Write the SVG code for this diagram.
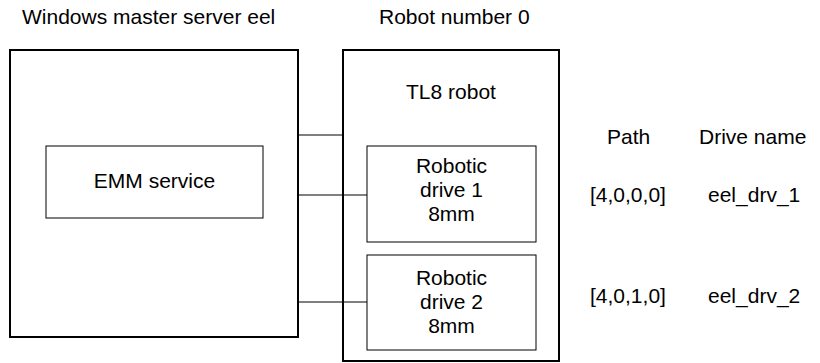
<svg xmlns="http://www.w3.org/2000/svg" width="820" height="363" viewBox="0 0 820 363">
<style>
text{font-family:"Liberation Sans",Arial,sans-serif;font-size:21px;fill:#000}
.c{text-anchor:middle}
.outer{fill:#fff;stroke:#000;stroke-width:2}
.inner{fill:#fff;stroke:#000;stroke-width:1}
.conn{stroke:#000;stroke-width:1;fill:none}
</style>
<rect width="820" height="363" fill="#fff"/>
<g id="server">
<text x="22" y="24">Windows master server eel</text>
<rect class="outer" x="10" y="50" width="288" height="287"/>
</g>
<g id="emm">
<rect class="inner" x="46" y="146" width="217" height="72"/>
<text class="c" x="154.5" y="188">EMM service</text>
</g>
<g id="robot">
<text x="379" y="24">Robot number 0</text>
<rect class="outer" x="343" y="50" width="216" height="311"/>
<text class="c" x="451" y="99">TL8 robot</text>
</g>
<g id="drive1">
<rect class="inner" x="367" y="146" width="169" height="96"/>
<text class="c" x="451.5" y="173">Robotic</text>
<text class="c" x="451.5" y="197">drive 1</text>
<text class="c" x="451.5" y="221">8mm</text>
</g>
<g id="drive2">
<rect class="inner" x="367" y="255" width="169" height="95"/>
<text class="c" x="451.5" y="285">Robotic</text>
<text class="c" x="451.5" y="309">drive 2</text>
<text class="c" x="451.5" y="333">8mm</text>
</g>
<g id="table">
<text x="607" y="144">Path</text>
<text x="699" y="144">Drive name</text>
<text x="590" y="202">[4,0,0,0]</text>
<text x="708" y="202">eel_drv_1</text>
<text x="590" y="303">[4,0,1,0]</text>
<text x="708" y="303">eel_drv_2</text>
</g>
<g id="connectors">
<line class="conn" x1="299" y1="135" x2="342" y2="135"/>
<line class="conn" x1="299" y1="195" x2="367" y2="195"/>
<line class="conn" x1="299" y1="302" x2="367" y2="302"/>
</g>
</svg>
